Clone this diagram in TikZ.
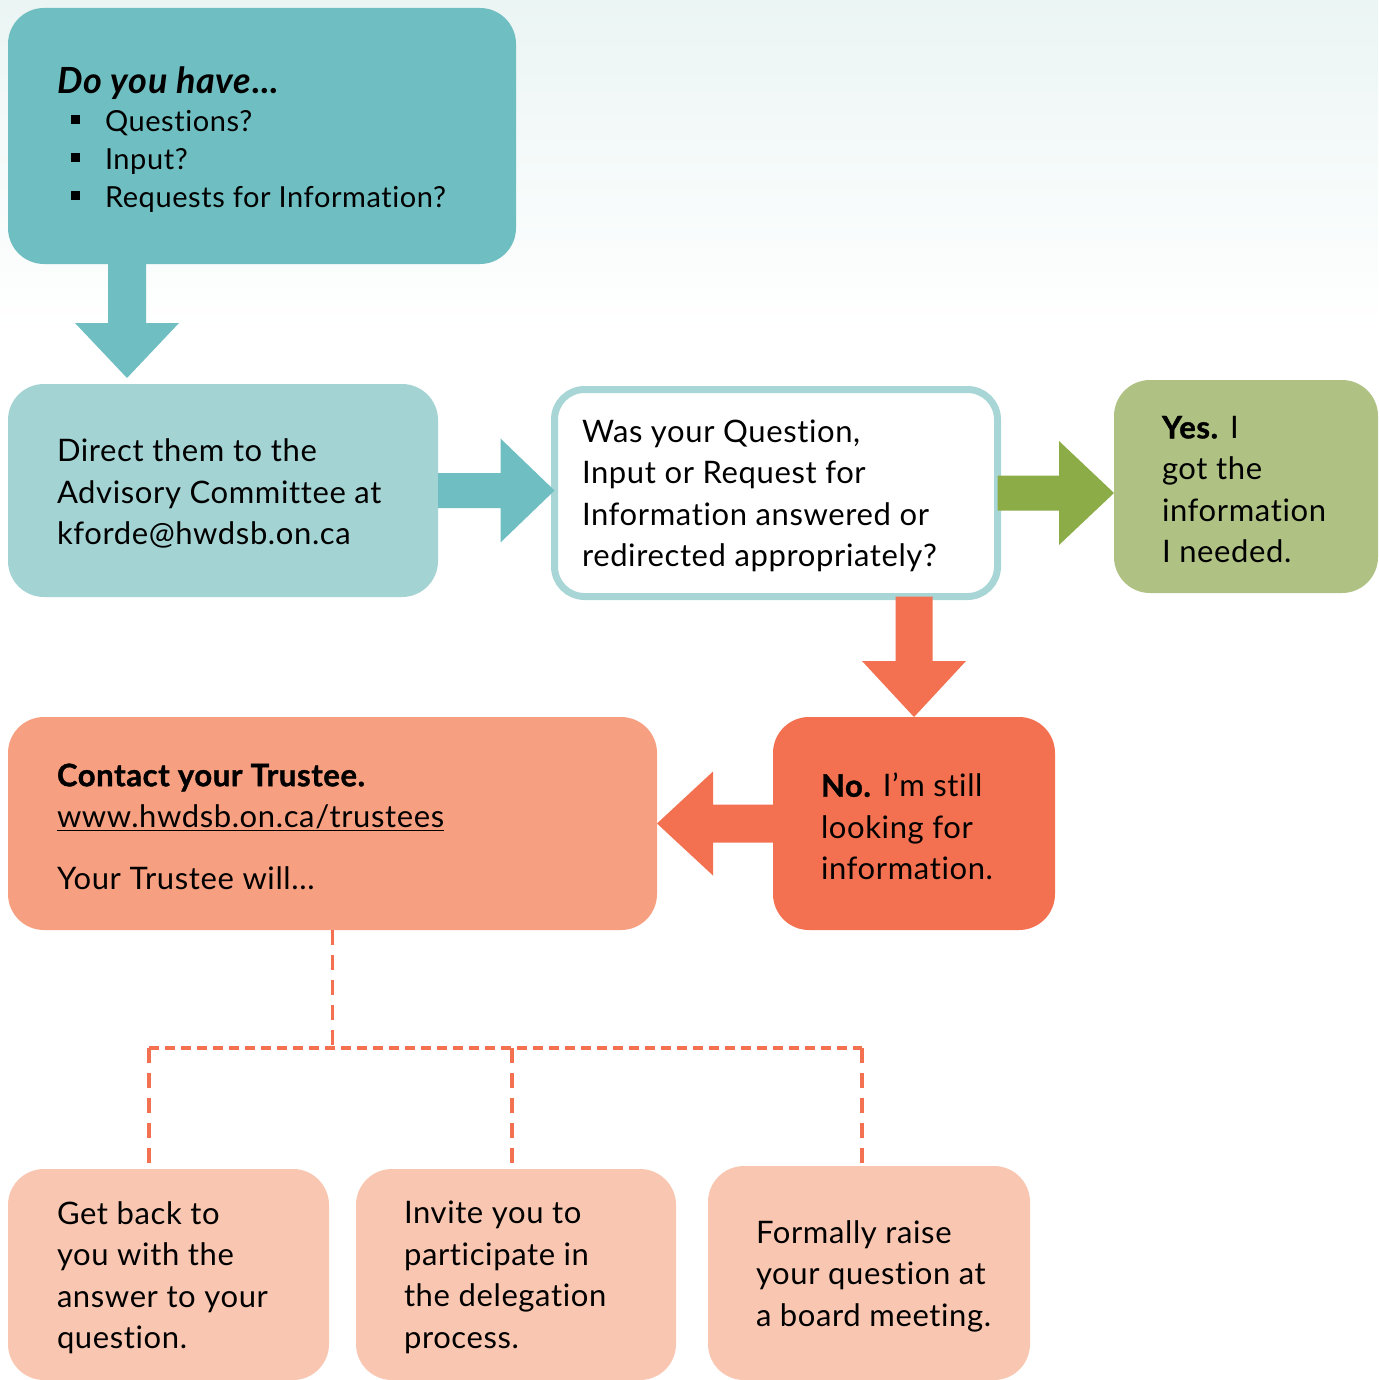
\documentclass[tikz,border=0pt]{standalone}
\usepackage{fontspec}
\setmainfont{Lato}[LetterSpace=2, Ligatures=NoCommon, BoldFeatures={FakeBold=1.2}]
\usetikzlibrary{calc}
\definecolor{bgTop}{HTML}{EBF5F4}
\definecolor{tealA}{HTML}{6FBEC1}
\definecolor{tealB}{HTML}{A4D3D4}
\definecolor{tealC}{HTML}{A8D6D7}
\definecolor{greenA}{HTML}{8BAC47}
\definecolor{greenB}{HTML}{AFC283}
\definecolor{orangeA}{HTML}{F37150}
\definecolor{orangeB}{HTML}{F79F81}
\definecolor{orangeC}{HTML}{F9C7B1}
\begin{document}
\begin{tikzpicture}[x=1pt,y=-1pt,
  box/.style={rectangle, rounded corners=36pt, anchor=north west, inner sep=0pt, outer sep=0pt},
  txt/.style={anchor=west, align=left, inner sep=0pt, outer sep=0pt, text=black, yshift=-3pt,
              font=\fontsize{31}{41.5}\selectfont},
  dashv/.style={draw=orangeA, line width=3.5pt, dash pattern=on 15pt off 10pt},
  dashh/.style={draw=orangeA, line width=3.5pt, dash pattern=on 10pt off 6pt}]
\useasboundingbox (0,0) rectangle (1378,1380);
\clip (0,0) rectangle (1378,1380);
\fill[white] (0,0) rectangle (1378,1380);
\shade[top color=bgTop, bottom color=white] (0,0) rectangle (1378,330);

% boxes
\node[box, fill=tealA, minimum width=508pt, minimum height=256pt] (b1) at (8,8) {};
\node[box, fill=tealB, minimum width=430pt, minimum height=213pt] (b2) at (8,384) {};
\node[box, fill=white, draw=tealC, line width=7pt, rounded corners=30pt, minimum width=443pt, minimum height=207pt] (b3) at (554.5,389.5) {};
\node[box, fill=greenB, minimum width=264pt, minimum height=213pt] (b4) at (1114,380) {};
\node[box, fill=orangeA, minimum width=282pt, minimum height=213pt] (b5) at (773,717) {};
\node[box, fill=orangeB, minimum width=649pt, minimum height=213pt] (b6) at (8,717) {};
\node[box, fill=orangeC, minimum width=321pt, minimum height=211pt] (b7) at (8,1169) {};
\node[box, fill=orangeC, minimum width=320pt, minimum height=211pt] (b8) at (356,1169) {};
\node[box, fill=orangeC, minimum width=322pt, minimum height=214pt] (b9) at (708,1166) {};

% texts
\node[txt, font=\fontsize{29}{38}\selectfont, yshift=-1pt] (t1) at ([xshift=49pt]b1.west)
  {{\fontsize{36}{38}\selectfont\bfseries\itshape Do you have...}\\
   \makebox[48pt][l]{\hspace{14pt}\rule[7.5pt]{9pt}{9pt}}Questions?\\
   \makebox[48pt][l]{\hspace{14pt}\rule[7.5pt]{9pt}{9pt}}Input?\\
   \makebox[48pt][l]{\hspace{14pt}\rule[7.5pt]{9pt}{9pt}}Requests for Information?};
\node[txt] (t2) at ([xshift=49pt]b2.west)
  {Direct them to the\\Advisory Committee at\\kforde@hwdsb.on.ca};
\node[txt] (t3) at ([xshift=27.5pt]b3.west)
  {Was your Question,\\Input or Request for\\Information answered or\\redirected appropriately?};
\node[txt] (t4) at ([xshift=48pt]b4.west)
  {\textbf{Yes.} I\\got the\\information\\I needed.};
\node[txt] (t5) at ([xshift=48pt]b5.west)
  {\textbf{No.} I’m still\\looking for\\information.};
\node[txt] (t6) at ([xshift=49pt]b6.west)
  {\textbf{Contact your Trustee.}\\\underline{www.hwdsb.on.ca/trustees}\\[20pt]Your Trustee will...};
\node[txt] (t7) at ([xshift=49pt]b7.west)
  {Get back to\\you with the\\answer to your\\question.};
\node[txt] (t8) at ([xshift=48pt]b8.west)
  {Invite you to\\participate in\\the delegation\\process.};
\node[txt] (t9) at ([xshift=48pt]b9.west)
  {Formally raise\\your question at\\a board meeting.};

% block arrows
\coordinate (a1) at ([xshift=119pt]b1.south west);
\coordinate (tip1) at ($(a1 |- b2.north)+(0,-6)$);
\fill[tealA] ($(a1)+(-19,0)$) -- ($(tip1)+(-19,-55)$) -- ($(tip1)+(-52,-55)$) -- (tip1)
  -- ($(tip1)+(52,-55)$) -- ($(tip1)+(19,-55)$) -- ($(a1)+(19,0)$) -- cycle;

\coordinate (tip2) at (b3.west |- b2.east);
\fill[tealA] ($(b2.east)+(0,-17.5)$) -- ($(tip2)+(-54,-17.5)$) -- ($(tip2)+(-54,-52)$) -- (tip2)
  -- ($(tip2)+(-54,52)$) -- ($(tip2)+(-54,17.5)$) -- ($(b2.east)+(0,17.5)$) -- cycle;

\coordinate (tip3) at (b4.west |- b3.east);
\fill[greenA] ($(b3.east)+(0,-17.5)$) -- ($(tip3)+(-55,-17.5)$) -- ($(tip3)+(-55,-52)$) -- (tip3)
  -- ($(tip3)+(-55,52)$) -- ($(tip3)+(-55,17.5)$) -- ($(b3.east)+(0,17.5)$) -- cycle;

\coordinate (a4) at (b5.north |- b3.south);
\fill[orangeA] ($(a4)+(-18.5,0)$) -- ($(b5.north)+(-18.5,-56)$) -- ($(b5.north)+(-52,-56)$) -- (b5.north)
  -- ($(b5.north)+(52,-56)$) -- ($(b5.north)+(18.5,-56)$) -- ($(a4)+(18.5,0)$) -- cycle;

\coordinate (tip5) at (b6.east |- b5.west);
\fill[orangeA] ($(b5.west)+(0,-19)$) -- ($(tip5)+(56,-19)$) -- ($(tip5)+(56,-52)$) -- (tip5)
  -- ($(tip5)+(56,52)$) -- ($(tip5)+(56,19)$) -- ($(b5.west)+(0,19)$) -- cycle;

% dashed tree
\coordinate (hl) at (0,1048);
\coordinate (d7) at ([xshift=-19.5pt,yshift=4pt]b7.north);
\coordinate (d8) at ([xshift=-4pt,yshift=4pt]b8.north);
\coordinate (d9) at ([xshift=-7pt,yshift=1pt]b9.north);
\draw[dashv] (b6.south) -- (b6.south |- hl);
\draw[dashh] (d7 |- hl) -- (d9 |- hl);
\draw[dashv] (d7 |- hl) -- (d7);
\draw[dashv] (d8 |- hl) -- (d8);
\draw[dashv] (d9 |- hl) -- (d9);
\end{tikzpicture}
\end{document}
